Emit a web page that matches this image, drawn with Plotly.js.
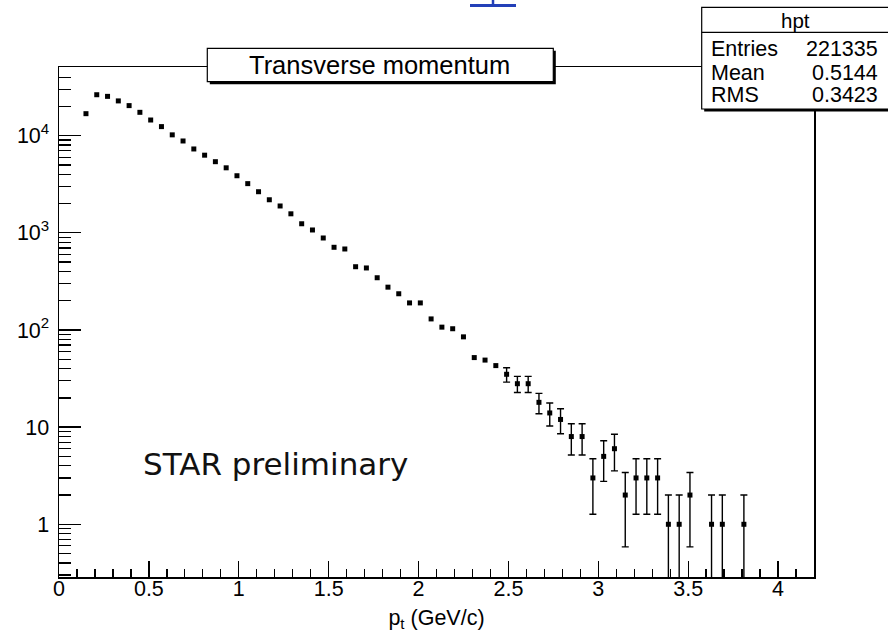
<!DOCTYPE html>
<html>
<head>
<meta charset="utf-8">
<script src="https://cdn.plot.ly/plotly-3.0.1.min.js"></script>
<style>
  html, body { margin: 0; padding: 0; background: #fff; }
  #chart { width: 888px; height: 634px; }
</style>
</head>
<body>
<div id="chart"></div>
<script>
// Transverse momentum spectrum, 0.06 GeV/c bins (bin centres in GeV/c)
const pt = [
  0.15, 0.21, 0.27, 0.33, 0.39, 0.45, 0.51, 0.57, 0.63, 0.69,
  0.75, 0.81, 0.87, 0.93, 0.99, 1.05, 1.11, 1.17, 1.23, 1.29,
  1.35, 1.41, 1.47, 1.53, 1.59, 1.65, 1.71, 1.77, 1.83, 1.89,
  1.95, 2.01, 2.07, 2.13, 2.19, 2.25, 2.31, 2.37, 2.43, 2.49,
  2.55, 2.61, 2.67, 2.73, 2.79, 2.85, 2.91, 2.97, 3.03, 3.09,
  3.15, 3.21, 3.27, 3.33, 3.39, 3.45, 3.51, 3.57, 3.63, 3.69,
  3.75, 3.81
];
// entries per bin
const counts = [
  16850, 26400, 25400, 22800, 20400, 17400, 14500, 12400, 10200, 8820,
  7300, 6300, 5400, 4670, 3870, 3210, 2650, 2190, 1890, 1570,
  1240, 1070, 885, 710, 682, 448, 435, 345, 276, 236,
  190, 190, 130, 107, 103, 85, 52, 49, 43, 35,
  28, 28, 18, 14, 12, 8, 8, 3, 5, 6,
  2, 3, 3, 3, 1, 1, 2, 0, 1, 1,
  0, 1
];

const histName = 'hpt';
const chartTitle = 'Transverse momentum';
const statLabels = ['Entries', 'Mean', 'RMS'];
const statValues = ['221335', '0.5144', '0.3423'];
const watermark = 'STAR preliminary';
const xTitle = 'p<sub>t</sub> (GeV/c)';
const xTickVals = [0, 0.5, 1, 1.5, 2, 2.5, 3, 3.5, 4];
const xTickText = ['0', '0.5', '1', '1.5', '2', '2.5', '3', '3.5', '4'];
const yTickVals = [1, 10, 100, 1000, 10000];
const yTickText = ['1', '10', '10<sup>2</sup>', '10<sup>3</sup>', '10<sup>4</sup>'];

// Poisson errors; bars that would stay hidden under the marker are left out
const errs = counts.map(n => (n > 0 && n < 40) ? Math.sqrt(n) : NaN);

const FONT = 'Liberation Sans, Arial, Helvetica, sans-serif';
const INK = '#000';

// frame geometry (pixels) and pixel -> paper helpers for the boxes
const L = 59, R = 74, T = 67, B = 57;
const W = 888 - L - R, H = 634 - T - B;
const px = x => (x - L) / W;
const py = y => (T + H - y) / H;

const trace = {
  type: 'scatter',
  mode: 'markers',
  x: pt,
  y: counts,
  marker: { symbol: 'square', size: 5, color: INK, line: { width: 0 } },
  error_y: {
    type: 'data', array: errs, visible: true,
    color: INK, thickness: 1.4, width: 3.5
  },
  hoverinfo: 'skip',
  cliponaxis: true
};

const shapes = [
  // title pave with drop shadow
  { type: 'rect', xref: 'paper', yref: 'paper', layer: 'above',
    x0: px(209.8), x1: px(555.8), y0: py(84.2), y1: py(50.8),
    fillcolor: INK, line: { width: 0 } },
  { type: 'rect', xref: 'paper', yref: 'paper', layer: 'above',
    x0: px(207.3), x1: px(553.3), y0: py(81.7), y1: py(48.3),
    fillcolor: '#fff', line: { color: INK, width: 1.2 } },
  // statistics box with drop shadow
  { type: 'rect', xref: 'paper', yref: 'paper', layer: 'above',
    x0: px(704.2), x1: px(900), y0: py(111.5), y1: py(9.8),
    fillcolor: INK, line: { width: 0 } },
  { type: 'rect', xref: 'paper', yref: 'paper', layer: 'above',
    x0: px(701.7), x1: px(900), y0: py(109), y1: py(7.3),
    fillcolor: '#fff', line: { color: INK, width: 1.2 } },
  { type: 'line', xref: 'paper', yref: 'paper', layer: 'above',
    x0: px(701.7), x1: px(900), y0: py(32.3), y1: py(32.3),
    line: { color: INK, width: 1.2 } },
  // link fragment at the top edge of the page
  { type: 'line', xref: 'paper', yref: 'paper', layer: 'above',
    x0: px(470), x1: px(516), y0: py(5.5), y1: py(5.5),
    line: { color: '#2340b8', width: 3 } },
  { type: 'line', xref: 'paper', yref: 'paper', layer: 'above',
    x0: px(493), x1: px(493), y0: py(0), y1: py(5.5),
    line: { color: '#2340b8', width: 2.5 } }
];

const annotations = [
  { text: chartTitle, xref: 'paper', yref: 'paper', x: px(379), y: py(65),
    xanchor: 'center', yanchor: 'middle', showarrow: false,
    font: { family: FONT, size: 25.5, color: INK } },
  { text: histName, xref: 'paper', yref: 'paper', x: px(795), y: py(20.5),
    xanchor: 'center', yanchor: 'middle', showarrow: false,
    font: { family: FONT, size: 20.5, color: INK } },
  { text: watermark, xref: 'paper', yref: 'paper', x: px(141), y: py(464),
    xanchor: 'left', yanchor: 'middle', showarrow: false,
    font: { family: 'DejaVu Sans, Verdana, sans-serif', size: 31, color: '#111' } }
];
const rowY = [48.8, 72.6, 94.8];
statLabels.forEach((lab, i) => {
  annotations.push({ text: lab, xref: 'paper', yref: 'paper', x: px(709), y: py(rowY[i]),
    xanchor: 'left', yanchor: 'middle', showarrow: false,
    font: { family: FONT, size: 21.5, color: INK } });
  annotations.push({ text: statValues[i], xref: 'paper', yref: 'paper', x: px(880), y: py(rowY[i]),
    xanchor: 'right', yanchor: 'middle', showarrow: false,
    font: { family: FONT, size: 21.5, color: INK } });
});

const layout = {
  width: 888, height: 634,
  margin: { l: L, r: R, t: T, b: B, pad: 0 },
  paper_bgcolor: '#fff', plot_bgcolor: '#fff',
  showlegend: false,
  font: { family: FONT, color: INK },
  xaxis: {
    range: [0, 4.2], fixedrange: true,
    showgrid: false, zeroline: false,
    showline: true, mirror: true, linecolor: INK, linewidth: 1.5,
    ticks: 'inside', ticklen: 16, tickwidth: 1.3, tickcolor: INK,
    tickmode: 'array', tickvals: xTickVals, ticktext: xTickText,
    tickfont: { family: FONT, size: 21.5, color: INK },
    ticklabelstandoff: -8,
    minor: { ticks: 'inside', ticklen: 8, tickwidth: 1.3, tickcolor: INK,
             tick0: 0, dtick: 0.1, showgrid: false },
    title: { text: xTitle, font: { family: FONT, size: 21.5, color: INK }, standoff: 9 },
    automargin: false
  },
  yaxis: {
    type: 'log', range: [-0.5425, 4.707], fixedrange: true,
    showgrid: false, zeroline: false,
    showline: true, mirror: true, linecolor: INK, linewidth: 1.5,
    ticks: 'inside', ticklen: 22, tickwidth: 1.3, tickcolor: INK,
    tickmode: 'array', tickvals: yTickVals, ticktext: yTickText,
    tickfont: { family: FONT, size: 21.5, color: INK },
    ticklabelstandoff: 4,
    minor: { ticks: 'inside', ticklen: 12, tickwidth: 1.3, tickcolor: INK,
             dtick: 'D1', showgrid: false },
    automargin: false
  },
  shapes: shapes,
  annotations: annotations
};

Plotly.newPlot('chart', [trace], layout, { displayModeBar: false, staticPlot: true });
</script>
</body>
</html>
